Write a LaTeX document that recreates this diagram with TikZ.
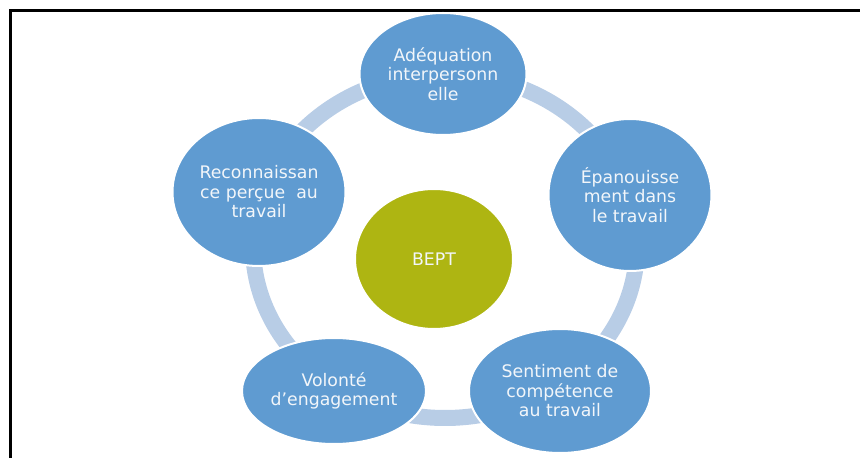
\documentclass[tikz,border=0pt]{standalone}
\usepackage{fontspec}
\setmainfont{DejaVu Sans}
\usetikzlibrary{shapes.geometric}

\definecolor{petalblue}{RGB}{95,155,209}
\definecolor{coreolive}{RGB}{174,181,18}
\definecolor{ringblue}{RGB}{184,205,230}
\definecolor{lighttext}{RGB}{242,246,250}

\begin{document}
\begin{tikzpicture}[x=1pt, y=1pt,
  petal/.style={ellipse, fill=petalblue, draw=white, line width=2pt, inner sep=0pt,
    text=lighttext, align=center, font=\fontsize{17.3}{19.5}\selectfont},
  core/.style={petal, fill=coreolive},
  ring/.style={draw=ringblue, line width=16pt}]
\useasboundingbox (0,0) rectangle (860,458);

% frame
\draw[line width=3pt] (10,0) |- (860,447);

% ring behind the circles
\coordinate (hub) at (445,212);
\draw[ring] (hub) ellipse [x radius=192, y radius=172];

\node[core, minimum width=158, minimum height=140] (bept) at (434,199) {BEPT};

\node[petal, minimum width=167, minimum height=122] (adeq) at (443,384) {Adéquation\\interpersonn\\elle};
\node[petal, minimum width=163, minimum height=152] (epan) at (630,263) {Épanouisse\\ment dans\\le travail};
\node[petal, minimum width=182, minimum height=124] (sent) at (560,67) {Sentiment de\\compétence\\au travail};
\node[petal, minimum width=184, minimum height=106] (volo) at (334,67) {Volonté\\d’engagement};
\node[petal, minimum width=173, minimum height=148] (reco) at (259,266) {Reconnaissan\\ce perçue~ au\\travail};

\end{tikzpicture}
\end{document}
